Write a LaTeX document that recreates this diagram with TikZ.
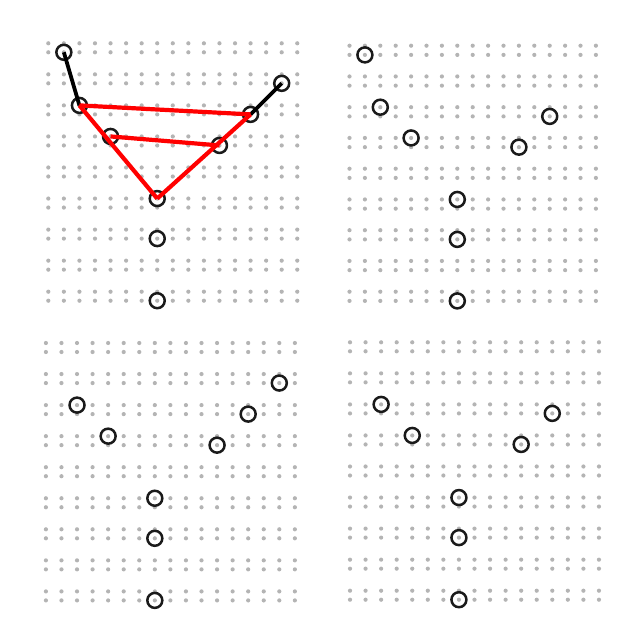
\documentclass[tikz,border=0pt]{standalone}
\usepackage{tikz}
\usepackage[dvipsnames]{xcolor}
\definecolor{DotGray}{HTML}{B4B4B4}
\definecolor{RingBlack}{HTML}{1A1A1A}
\definecolor{LimbRed}{HTML}{FF0000}
\newcommand{\colstep}{15.56}
\newcommand{\pairstep}{31.05}
\newcommand{\substep}{9}
\newcommand{\dotrad}{2.1pt}
\newcommand{\dotgrid}{
  \foreach \cx in {0,...,16}{
    \foreach \ry in {0,...,8}{
      \fill[griddot] (\cx*\colstep, \ry*\pairstep) circle (\dotrad);
      \fill[griddot] (\cx*\colstep, \ry*\pairstep + \substep) circle (\dotrad);
    }
  }
}
\newcommand{\kp}[4]{
  \node[kpt] (#1) at (#2*\colstep, #3*\pairstep + #4*\substep) {};
}
% the seven points that every panel has
\newcommand{\basepoints}[1]{
  \kp{#1b}{2}{2}{0}
  \kp{#1c}{4}{3}{0}
  \kp{#1d}{7}{5}{0}
  \kp{#1e}{7}{6}{1}
  \kp{#1f}{7}{8}{1}
  \kp{#1g}{11}{3}{1}
  \kp{#1h}{13}{2}{1}
}

\begin{document}
\begin{tikzpicture}[x=1pt,y=-1pt,
    griddot/.style={fill=DotGray},
    kpt/.style={circle,draw=RingBlack,line width=2.5pt,inner sep=0pt,minimum size=15pt},
    limb/.style={draw=LimbRed,line width=4.2pt},
    arm/.style={draw=black,line width=3.8pt}]
  \useasboundingbox (0,0) rectangle (620,639);

  % top left, with the skeleton
  \begin{scope}[shift={(48.3,43.3)}]
    \dotgrid
    \basepoints{p1}
    \kp{p1a}{1}{0}{1}
    \kp{p1i}{15}{1}{1}
    \draw[arm] (p1a.center) -- (p1b.center);
    \draw[arm] (p1h.center) -- (p1i.center);
    \draw[limb] (p1b.center) -- (p1h.center);
    \draw[limb] (p1b.center) -- (p1d.center);
    \draw[limb] (p1d.center) -- (p1h.center);
    \draw[limb] (p1c.center) -- (p1g.center);
  \end{scope}

  % top right
  \begin{scope}[shift={(349.5,45.7)}]
    \renewcommand{\colstep}{15.4}
    \renewcommand{\pairstep}{30.75}
    \renewcommand{\substep}{9.2}
    \dotgrid
    \basepoints{p2}
    \kp{p2a}{1}{0}{1}
  \end{scope}

  % bottom left
  \begin{scope}[shift={(45.9,343)}]
    \dotgrid
    \basepoints{p3}
    \kp{p3i}{15}{1}{1}
  \end{scope}

  % bottom right
  \begin{scope}[shift={(350,342.3)}]
    \dotgrid
    \basepoints{p4}
  \end{scope}
\end{tikzpicture}
\end{document}
